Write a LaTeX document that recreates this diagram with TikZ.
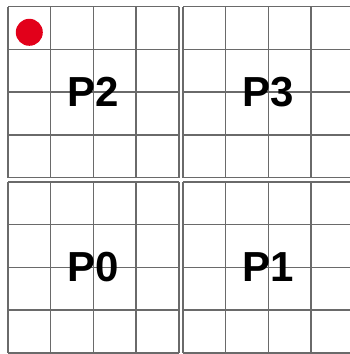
\documentclass[tikz,border=0pt]{standalone}
\usepackage{fontspec}
\setmainfont{Liberation Sans}
\definecolor{dotred}{HTML}{E2001A}
\definecolor{gridgray}{HTML}{6A6A6A}

\begin{document}
\begin{tikzpicture}[
    x=1pt, y=-1pt,
    cellline/.style={draw=gridgray, line width=1.4pt},
    blocklabel/.style={font=\fontsize{42}{42}\selectfont\bfseries, inner sep=0pt},
    marker/.style={circle, fill=dotred, minimum size=27pt, inner sep=0pt}
]
\useasboundingbox (0,0) rectangle (350,354);

% Four 4x4 blocks with their labels
\foreach \bx/\by/\lbl/\nm in {8/6.7/P2/ptwo, 183/6.7/P3/pthree, 8/182/P0/pzero, 183/182/P1/pone} {
    \foreach \i in {0,...,4} {
        \draw[cellline] (\bx+\i*42.7, \by) -- (\bx+\i*42.7, \by+170.8);
        \draw[cellline] (\bx, \by+\i*42.7) -- (\bx+170.8, \by+\i*42.7);
    }
    \node[blocklabel] (\nm) at (\bx+85.4, \by+85.4) {\lbl};
}

% Marker in the corner cell
\node[marker] (dot) at (29.3,32.3) {};

\end{tikzpicture}
\end{document}
